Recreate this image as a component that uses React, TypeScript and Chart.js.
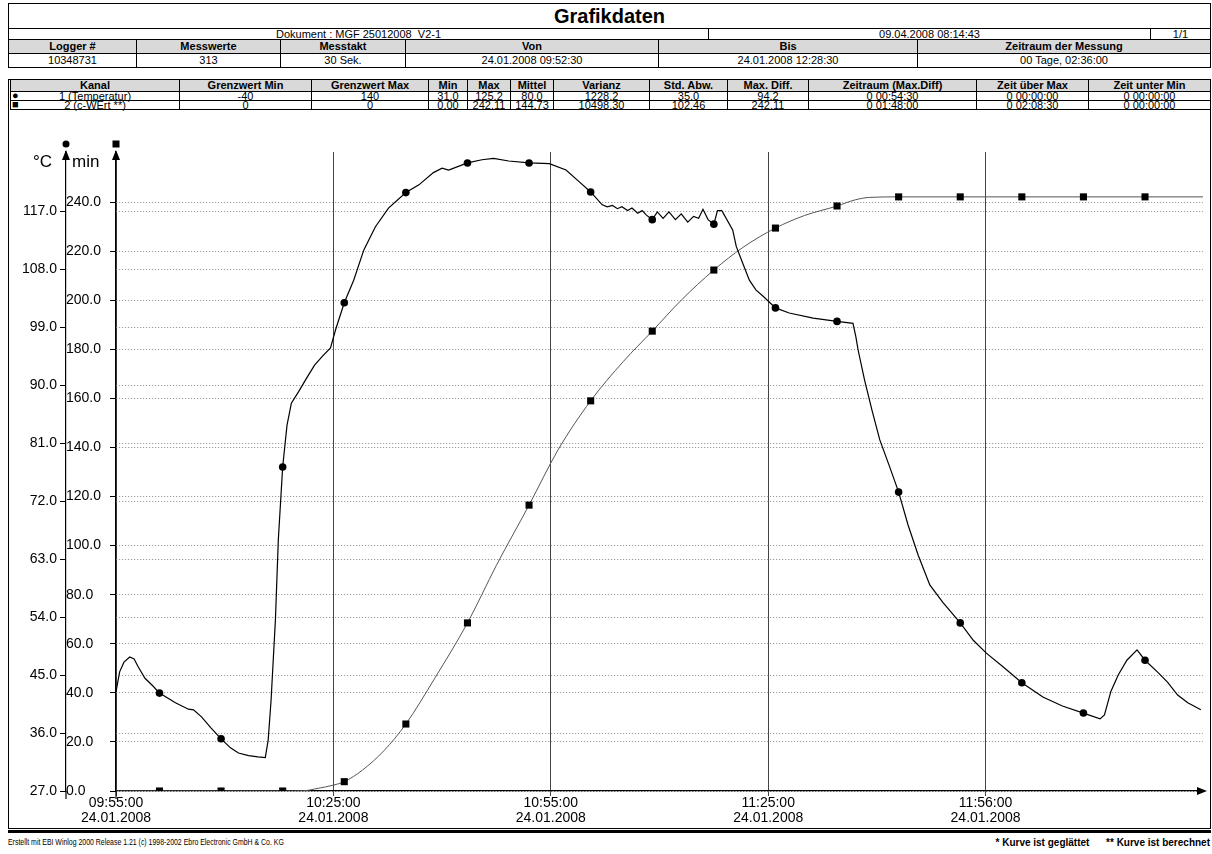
import React, { useEffect, useRef } from "react";
import { Chart, registerables } from "chart.js";

Chart.register(...registerables);

const FONT = '"Liberation Sans", Arial, Helvetica, sans-serif';

// ---- header table data ----
const DOC_TEXT = "Dokument : MGF 25012008_V2-1";
const PRINT_DATE = "09.04.2008 08:14:43";
const PAGE_TEXT = "1/1";
const INFO_COLS = [8, 136, 280, 405, 658, 917, 1210];
const INFO_HEAD = ["Logger #", "Messwerte", "Messtakt", "Von", "Bis", "Zeitraum der Messung"];
const INFO_VALS = ["10348731", "313", "30 Sek.", "24.01.2008 09:52:30", "24.01.2008 12:28:30", "00 Tage, 02:36:00"];

const KANAL_COLS = [10, 179, 311, 428, 467, 510, 553, 649, 727, 808, 976, 1088, 1210];
const KANAL_HEAD = ["Kanal", "Grenzwert Min", "Grenzwert Max", "Min", "Max", "Mittel", "Varianz", "Std. Abw.", "Max. Diff.", "Zeitraum (Max.Diff)", "Zeit über Max", "Zeit unter Min"];
const KANAL_ROW1 = ["1 (Temperatur)", "-40", "140", "31.0", "125.2", "80.0", "1228.2", "35.0", "94.2", "0 00:54:30", "0 00:00:00", "0 00:00:00"];
const KANAL_ROW2 = ["2 (c-WErt **)", "0", "0", "0.00", "242.11", "144.73", "10498.30", "102.46", "242.11", "0 01:48:00", "0 02:08:30", "0 00:00:00"];

// ---- chart data (x = minutes from axis start) ----
const X_TICKS = [0, 30, 60, 90, 120];
const X_TICK_LABELS = ["09:55:00", "10:25:00", "10:55:00", "11:25:00", "11:56:00"];
const X_DATE = "24.01.2008";
const TEMP_TICKS = [27, 36, 45, 54, 63, 72, 81, 90, 99, 108, 117];
const CW_TICKS = [0, 20, 40, 60, 80, 100, 120, 140, 160, 180, 200, 220, 240];

const MARKER_T = [6, 14.5, 23, 31.5, 40, 48.5, 57, 65.5, 74, 82.5, 91, 99.5, 108, 116.5, 125, 133.5, 142];

const TEMP_T = [
  0, 0.5, 1.1, 1.9, 2.5, 3.0, 4.0, 5.1, 6, 8.2, 10.0, 10.7, 11.8, 13.1, 14.5, 15.8, 16.9, 18.3, 19.6, 20.6,
  21.0, 21.4, 22.0, 22.4, 23, 23.6, 24.2, 25.2, 26.3, 27.4, 28.5, 29.6, 30.3, 31.5, 32.8, 34.2, 35.8, 37.6, 40,
  41.8, 43.8, 45.0, 45.9, 48.5, 50.5, 52.1, 54.2, 57, 59.8, 62.1, 63.9, 65.5, 67.1, 67.8, 68.5, 69.2, 69.8,
  70.6, 71.2, 72.0, 72.6, 73.2, 74, 74.7, 75.5, 76.3, 77.2, 78.0, 78.9, 79.7, 80.4, 81.0, 81.7, 82.5, 83.0,
  83.6, 85.1, 85.6, 86.5, 87.4, 88.3, 89.3, 91, 92.9, 96.2, 99.5, 101.7, 102.1, 102.4, 103.3, 104.3, 105.4,
  106.8, 108, 109.3, 110.7, 112.3, 114.1, 116.5, 118.3, 120.1, 122.4, 125, 127.9, 130.6, 133.5, 135.8, 136.4,
  137.3, 138.3, 139.5, 140.9, 142, 143.7, 145.1, 146.5, 147.9, 149.7,
];
const TEMP_V = [
  42.4, 45.5, 47.0, 47.8, 47.5, 46.4, 44.5, 43.3, 42.2, 40.7, 39.7, 39.6, 38.5, 36.8, 35.1, 33.7, 32.9, 32.5, 32.3, 32.2,
  34.9, 41.1, 53.6, 66.0, 77.3, 83.8, 87.2, 89.0, 91.1, 93.1, 94.5, 95.8, 98.6, 102.8, 106.3, 111.0, 114.6, 117.5, 119.9,
  121.1, 123.0, 123.7, 123.4, 124.5, 125.0, 125.2, 124.8, 124.5, 124.4, 123.4, 121.6, 120.0, 118.0, 117.7, 117.9, 117.4, 117.7,
  117.1, 117.5, 116.7, 117.1, 116.4, 115.7, 116.9, 115.9, 116.9, 115.7, 116.6, 115.3, 116.2, 115.9, 117.3, 115.7, 115.0, 117.1,
  117.1, 114.1, 111.5, 108.9, 106.3, 104.8, 103.8, 102.0, 101.2, 100.4, 99.9, 99.6, 97.5, 95.5, 90.8, 86.2, 81.5,
  77.2, 73.4, 68.3, 63.6, 59.0, 56.3, 53.1, 50.4, 48.4, 46.3, 43.8, 41.6, 40.2, 39.1, 38.2, 38.8,
  42.5, 45.0, 47.3, 48.9, 47.3, 45.5, 43.9, 41.9, 40.7, 39.6,
];

const CW_T = [
  0, 6, 14.5, 23, 25.9, 27.9, 30.0, 31.5, 34, 37, 40, 44, 48.5, 52.5, 57, 61, 65.5, 70, 74, 78, 82.5,
  86.5, 91, 95, 99.5, 102, 104, 108, 116.5, 125, 133.5, 142, 150,
];
const CW_V = [
  0, 0, 0, 0, 0.1, 1.1, 2.4, 3.8, 8.5, 16.5, 27.3, 46, 68.5, 92, 116.5, 139, 159, 175, 187.4, 200, 212.3,
  221.5, 229.4, 234.5, 238.4, 240.9, 241.9, 242.11, 242.11, 242.11, 242.11, 242.11, 242.11,
];

const MARKER_SET = new Set(MARKER_T);

function Cell(props: {
  x1: number; x2: number; y1: number; y2: number; text?: React.ReactNode;
  bg?: string; bold?: boolean; size?: number; align?: "center" | "left" | "right";
}) {
  const { x1, x2, y1, y2, text, bg, bold, size, align } = props;
  return (
    <div
      style={{
        position: "absolute", left: x1, top: y1, width: x2 - x1 + 1, height: y2 - y1 + 1,
        boxSizing: "border-box", border: "1px solid #000", background: bg || "transparent",
        fontFamily: FONT, fontSize: size || 11, fontWeight: bold ? "bold" : "normal",
        lineHeight: y2 - y1 - 1 + "px", textAlign: align || "center", whiteSpace: "nowrap",
        overflow: "visible", color: "#000",
      }}
    >
      {text}
    </div>
  );
}

const GRAY = "#d9d9d9";

const decoPlugin = {
  id: "deco",
  afterDraw(chart: any) {
    const { ctx, chartArea, scales } = chart;
    const ax1 = scales.yT.right;
    const ax2 = scales.yM.right;
    ctx.save();
    ctx.fillStyle = "#000";
    ctx.strokeStyle = "#000";
    ctx.lineWidth = 1.2;
    for (const x of [ax1, ax2]) {
      ctx.beginPath();
      ctx.moveTo(x, chartArea.top - 2);
      ctx.lineTo(x - 4, chartArea.top + 8);
      ctx.lineTo(x + 4, chartArea.top + 8);
      ctx.closePath();
      ctx.fill();
      ctx.beginPath();
      ctx.moveTo(x, chartArea.bottom);
      ctx.lineTo(x, chartArea.bottom + 8);
      ctx.stroke();
    }
    ctx.beginPath();
    ctx.arc(ax1, chartArea.top - 8, 3.5, 0, Math.PI * 2);
    ctx.fill();
    ctx.fillRect(ax2 - 3.5, chartArea.top - 11.5, 7, 7);
    ctx.font = "17px " + FONT;
    ctx.textBaseline = "alphabetic";
    ctx.textAlign = "right";
    ctx.fillText("°C", ax1 - 14, chartArea.top + 15);
    ctx.textAlign = "left";
    ctx.fillText("min", ax1 + 6, chartArea.top + 15);
    const y = chartArea.bottom;
    const xr = chart.width - 2;
    ctx.beginPath();
    ctx.moveTo(chartArea.right, y);
    ctx.lineTo(xr - 8, y);
    ctx.stroke();
    ctx.beginPath();
    ctx.moveTo(xr, y);
    ctx.lineTo(xr - 10, y - 4);
    ctx.lineTo(xr - 10, y + 4);
    ctx.closePath();
    ctx.fill();
    ctx.restore();
  },
};

function ChartCanvas() {
  const ref = useRef<HTMLCanvasElement | null>(null);
  useEffect(() => {
    if (!ref.current) return;
    Chart.defaults.font.family = FONT;
    const chart = new Chart(ref.current, {
      type: "line",
      data: {
        datasets: [
          {
            label: "1 (Temperatur)",
            data: TEMP_T.map((t, i) => ({ x: t, y: TEMP_V[i] })),
            yAxisID: "yT",
            borderColor: "#000",
            borderWidth: 1.2,
            tension: 0,
            pointStyle: "circle",
            pointRadius: (c: any) => (MARKER_SET.has(TEMP_T[c.dataIndex]) ? 3.8 : 0),
            pointBackgroundColor: "#000",
            pointBorderColor: "#000",
            pointBorderWidth: 0,
          },
          {
            label: "2 (c-WErt **)",
            data: CW_T.map((t, i) => ({ x: t, y: CW_V[i] })),
            yAxisID: "yM",
            borderColor: "#555",
            borderWidth: 1,
            cubicInterpolationMode: "monotone",
            pointStyle: "rect",
            pointRadius: (c: any) => (MARKER_SET.has(CW_T[c.dataIndex]) ? 5 : 0),
            pointBackgroundColor: "#000",
            pointBorderColor: "#000",
            pointBorderWidth: 0,
          },
        ],
      },
      options: {
        animation: false,
        responsive: false,
        devicePixelRatio: 1,
        events: [],
        layout: { padding: { top: 42, right: 6, bottom: 0, left: 0 } },
        plugins: { legend: { display: false }, tooltip: { enabled: false } },
        scales: {
          x: {
            type: "linear",
            position: "bottom",
            min: 0,
            max: 150,
            afterBuildTicks: (s: any) => {
              s.ticks = X_TICKS.map((v) => ({ value: v }));
            },
            afterFit: (s: any) => {
              s.height = 36;
            },
            ticks: {
              autoSkip: false,
              maxRotation: 0,
              padding: 0,
              color: "#000",
              font: { size: 14, lineHeight: 1.05 },
              callback: (_v: any, i: number) => [X_TICK_LABELS[i], X_DATE],
            },
            grid: { color: "#444", lineWidth: 1, tickLength: 5, tickColor: "#444" },
            border: { color: "#000", width: 1.2 },
          },
          yT: {
            type: "linear",
            position: "left",
            weight: 1,
            min: 27,
            max: 126.2,
            afterBuildTicks: (s: any) => {
              s.ticks = TEMP_TICKS.map((v) => ({ value: v }));
            },
            afterFit: (s: any) => {
              s.width = 57;
            },
            ticks: {
              padding: 3,
              color: "#000",
              font: { size: 14 },
              callback: (v: any) => Number(v).toFixed(1),
            },
            grid: { color: "#888", lineWidth: 1, tickLength: 6, tickColor: "#000" },
            border: { color: "#000", width: 1.2, dash: [1, 2] },
          },
          yM: {
            type: "linear",
            position: "left",
            weight: 0,
            min: 0,
            max: 260.4,
            afterBuildTicks: (s: any) => {
              s.ticks = CW_TICKS.map((v) => ({ value: v }));
            },
            afterFit: (s: any) => {
              s.width = 50;
            },
            ticks: {
              crossAlign: "far",
              color: "#000",
              font: { size: 14 },
              callback: (v: any) => Number(v).toFixed(1),
            },
            grid: { color: "#888", lineWidth: 1, tickLength: 6, tickColor: "#000" },
            border: { color: "#000", width: 1.2, dash: [1, 2] },
          },
        },
      } as any,
      plugins: [decoPlugin],
    });
    return () => chart.destroy();
  }, []);
  return (
    <canvas
      ref={ref}
      width={1200}
      height={717}
      style={{ position: "absolute", left: 9, top: 110, width: 1200, height: 717, display: "block" }}
    />
  );
}

export default function App() {
  const infoHeadCells = INFO_HEAD.map((t, i) => (
    <Cell key={"ih" + i} x1={INFO_COLS[i]} x2={INFO_COLS[i + 1]} y1={39} y2={53} text={t} bg={GRAY} bold />
  ));
  const infoValCells = INFO_VALS.map((t, i) => (
    <Cell key={"iv" + i} x1={INFO_COLS[i]} x2={INFO_COLS[i + 1]} y1={53} y2={67} text={t} />
  ));
  const kHead = KANAL_HEAD.map((t, i) => (
    <Cell key={"kh" + i} x1={KANAL_COLS[i]} x2={KANAL_COLS[i + 1]} y1={79} y2={91} text={t} bg={GRAY} bold />
  ));
  const kRow1 = KANAL_ROW1.map((t, i) => (
    <Cell key={"k1" + i} x1={KANAL_COLS[i]} x2={KANAL_COLS[i + 1]} y1={91} y2={100} text={t} size={11} />
  ));
  const kRow2 = KANAL_ROW2.map((t, i) => (
    <Cell key={"k2" + i} x1={KANAL_COLS[i]} x2={KANAL_COLS[i + 1]} y1={100} y2={109} text={t} size={11} />
  ));
  return (
    <div
      style={{
        position: "absolute", left: 0, top: 0, width: 1212, height: 854,
        background: "#fff", overflow: "hidden", fontFamily: FONT,
      }}
    >
      {infoHeadCells}
      {kHead}
      <Cell x1={8} x2={1210} y1={3} y2={28} text="Grafikdaten" bold size={20} />
      <Cell x1={8} x2={708} y1={28} y2={39} text={DOC_TEXT} />
      <Cell x1={708} x2={1150} y1={28} y2={39} text={PRINT_DATE} />
      <Cell x1={1150} x2={1210} y1={28} y2={39} text={PAGE_TEXT} />
      {infoValCells}
      <div style={{ position: "absolute", left: 8, top: 79, width: 1203, height: 750, boxSizing: "border-box", border: "1px solid #000" }} />
      {kRow1}
      {kRow2}
      <div style={{ position: "absolute", left: 12, top: 91, height: 9, lineHeight: "9px", fontSize: 11, fontFamily: FONT }}>●</div>
      <div style={{ position: "absolute", left: 12, top: 100, height: 9, lineHeight: "9px", fontSize: 11, fontFamily: FONT }}>■</div>
      <ChartCanvas />
      <div style={{ position: "absolute", left: 8, top: 830, width: 1203, height: 3, background: "#000" }} />
      <div
        style={{
          position: "absolute", left: 8, top: 837, fontSize: 9, lineHeight: "11px", fontFamily: FONT,
          whiteSpace: "nowrap", transform: "scaleX(0.77)", transformOrigin: "left top",
        }}
      >
        Erstellt mit EBI Winlog 2000 Release 1.21 (c) 1998-2002 Ebro Electronic GmbH &amp; Co. KG
      </div>
      <div
        style={{
          position: "absolute", right: 2, top: 837, fontSize: 10, lineHeight: "11px", fontFamily: FONT,
          fontWeight: "bold", whiteSpace: "nowrap",
        }}
      >
        * Kurve ist geglättet&nbsp;&nbsp;&nbsp;&nbsp;&nbsp;&nbsp;** Kurve ist berechnet
      </div>
    </div>
  );
}
